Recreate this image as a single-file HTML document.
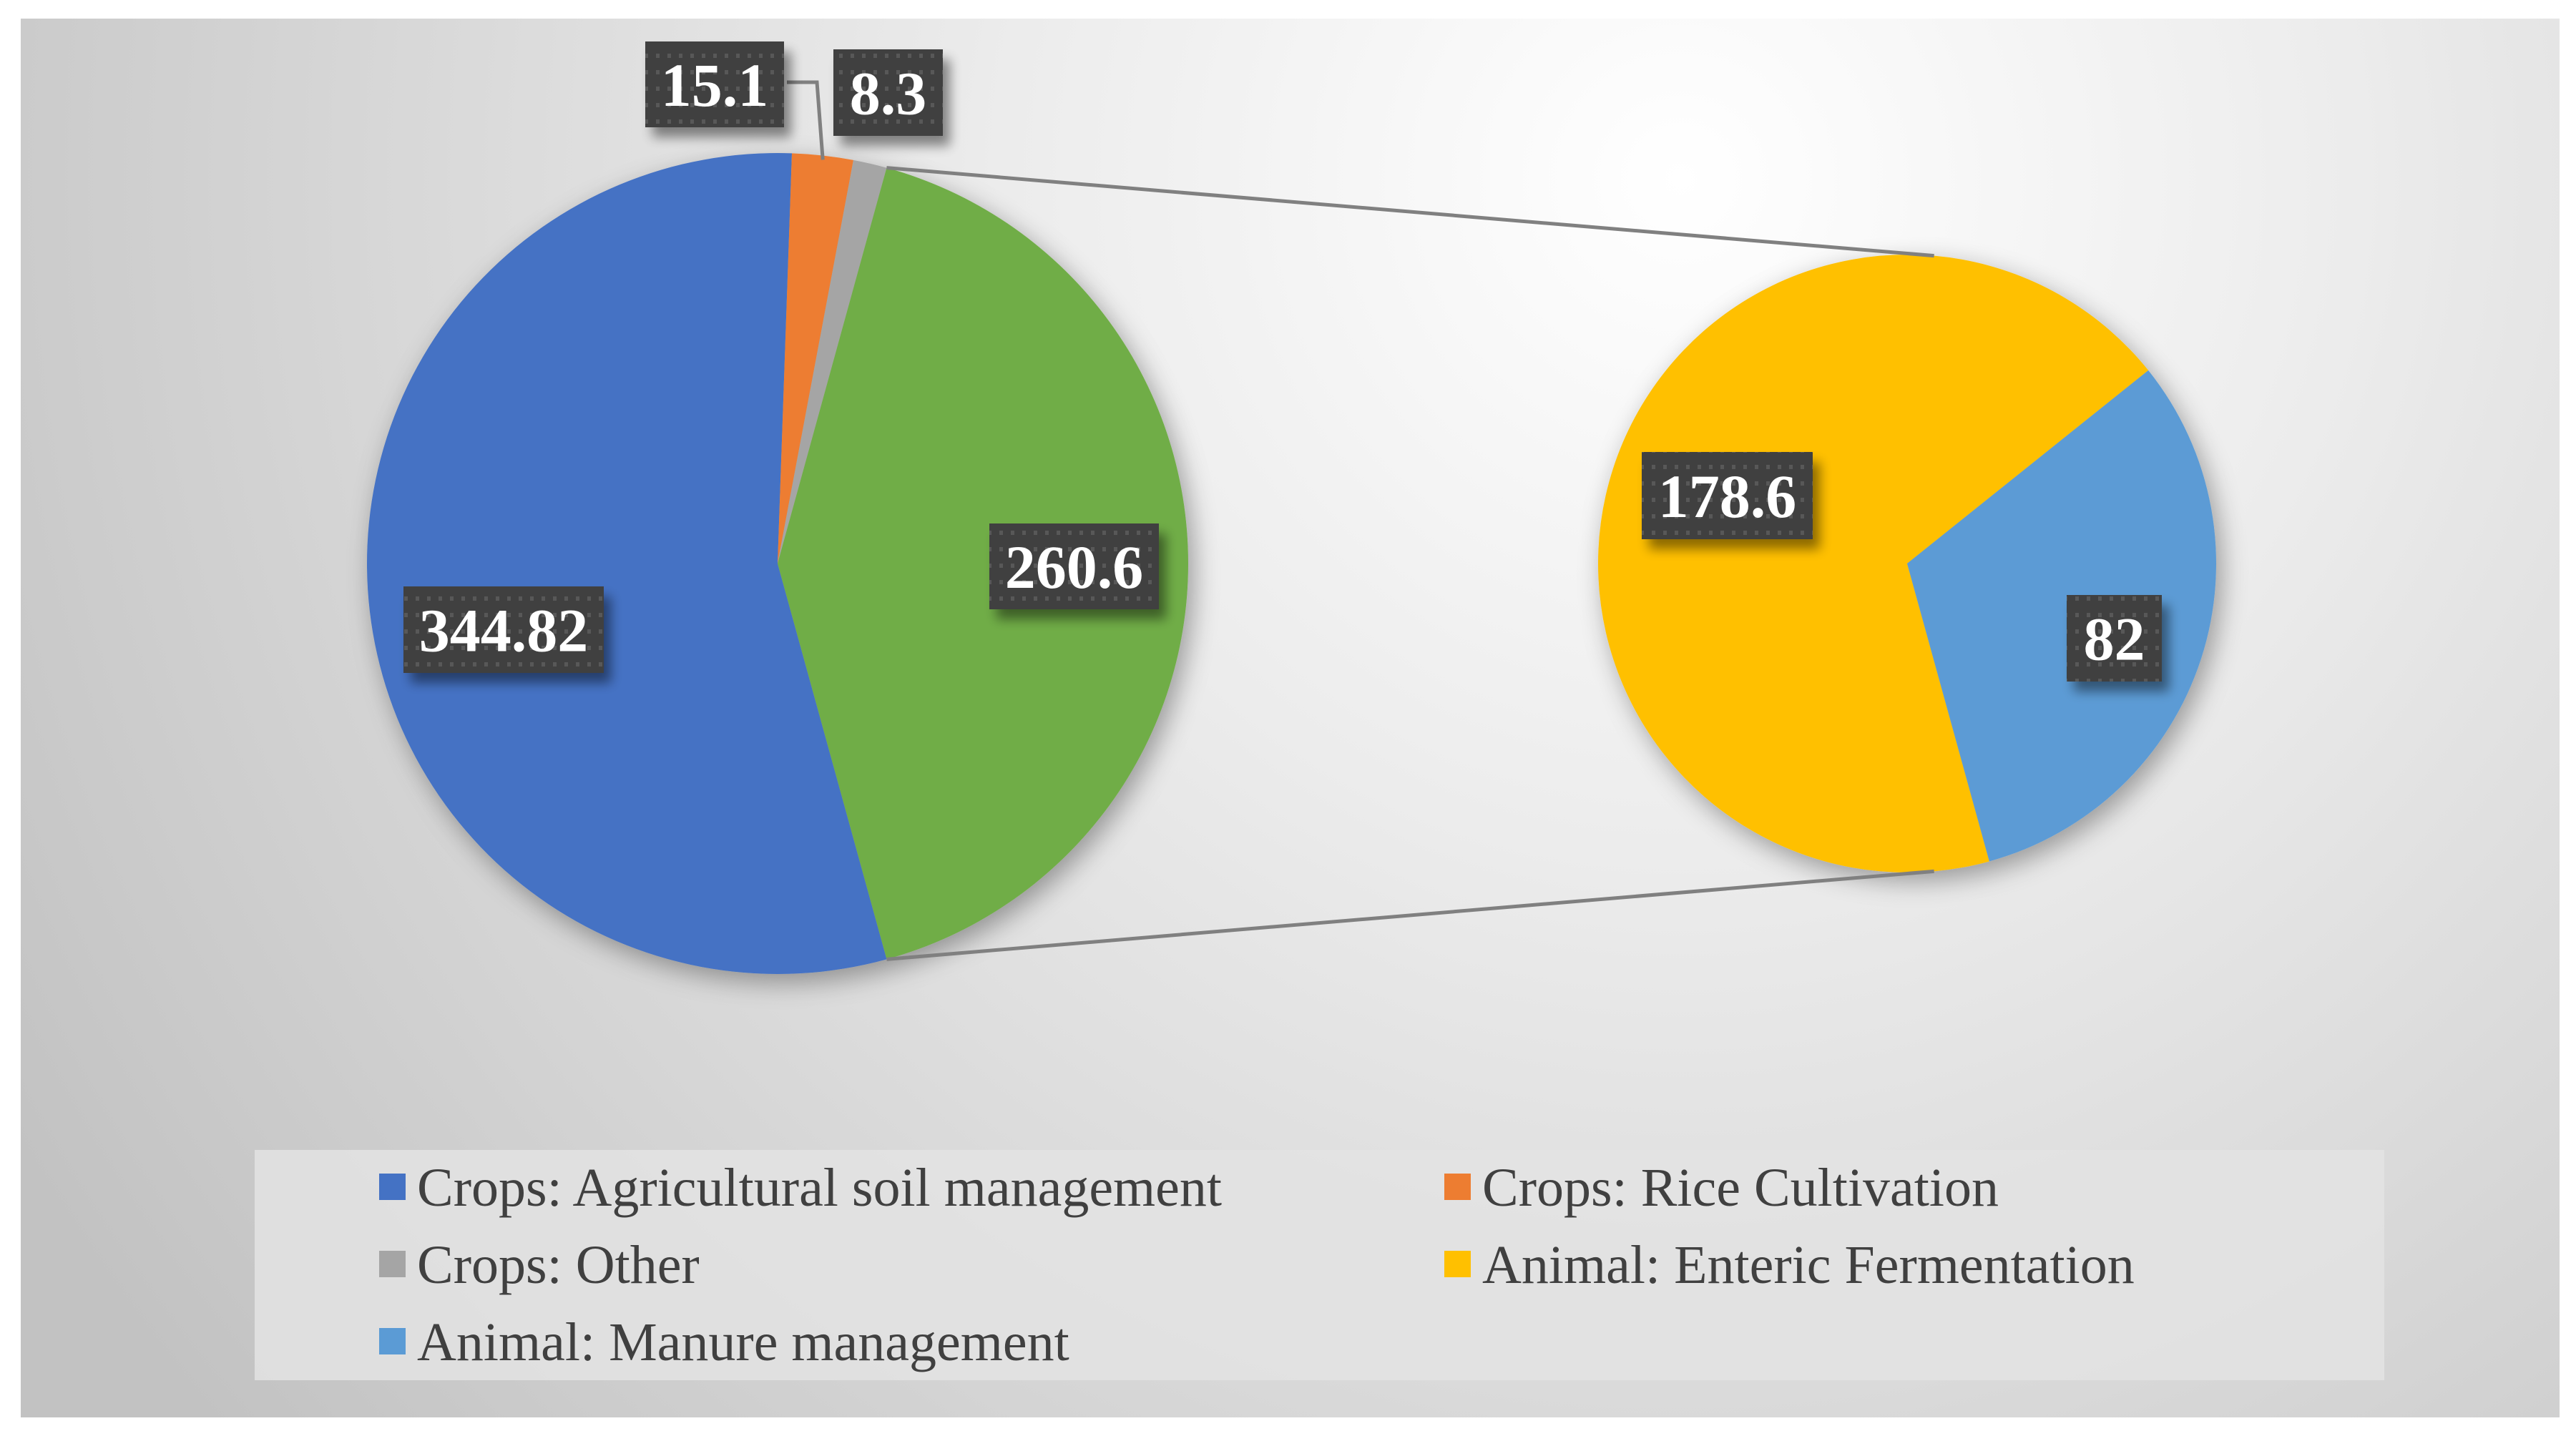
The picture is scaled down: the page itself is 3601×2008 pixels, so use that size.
<!DOCTYPE html>
<html><head><meta charset="utf-8"><style>
html,body{margin:0;padding:0;background:#fff;}
svg{display:block;}
</style></head><body>
<svg id="chart" width="3601" height="2008" viewBox="0 0 3601 2008" xmlns="http://www.w3.org/2000/svg">
<defs>
<radialGradient id="bg" gradientUnits="userSpaceOnUse" cx="2350" cy="250" r="2700">
<stop offset="0" stop-color="#ffffff"/><stop offset="0.35" stop-color="#ececec"/><stop offset="1" stop-color="#c2c2c2"/>
</radialGradient>
<pattern id="dots" width="16" height="23" patternUnits="userSpaceOnUse">
<rect width="16" height="23" fill="#404040"/><rect x="5" y="6" width="5" height="6" fill="#595959"/>
</pattern>
<filter id="sh" x="-20%" y="-20%" width="140%" height="140%"><feGaussianBlur in="SourceAlpha" stdDeviation="18"/><feOffset dx="8" dy="12"/><feComponentTransfer><feFuncA type="linear" slope="0.35"/></feComponentTransfer><feMerge><feMergeNode/><feMergeNode in="SourceGraphic"/></feMerge></filter>
<filter id="lsh" x="-30%" y="-30%" width="160%" height="160%"><feGaussianBlur in="SourceAlpha" stdDeviation="8"/><feOffset dx="10" dy="14"/><feComponentTransfer><feFuncA type="linear" slope="0.45"/></feComponentTransfer><feMerge><feMergeNode/><feMergeNode in="SourceGraphic"/></feMerge></filter>
</defs>
<rect x="29" y="26" width="3549" height="1956" fill="url(#bg)"/>
<g id="plot"></g>
<rect x="356" y="1608" width="2977" height="322" fill="#e3e3e3" fill-opacity="0.85"/>
<g id="legend" font-family="'Liberation Serif', serif" font-size="76" fill="#404040"></g>
</svg>
<script>
const categories = ["Crops: Agricultural soil management","Crops: Rice Cultivation","Crops: Other","Other"];
const mainValues = [344.82, 15.1, 8.3, 260.6];
const mainLabels = ["344.82","15.1","8.3","260.6"];
const subCategories = ["Animal: Enteric Fermentation","Animal: Manure management"];
const subValues = [178.6, 82];
const subLabels = ["178.6","82"];
const legendItems = ["Crops: Agricultural soil management","Crops: Rice Cultivation","Crops: Other","Animal: Enteric Fermentation","Animal: Manure management"];
const legendColors = ["#4472C4","#ED7D31","#A5A5A5","#FFC000","#5B9BD5"];

const NS="http://www.w3.org/2000/svg";
const plot=document.getElementById('plot');
function mk(tag,attrs,parent){const e=document.createElementNS(NS,tag);for(const k in attrs)e.setAttribute(k,attrs[k]);(parent||plot).appendChild(e);return e;}
function pt(cx,cy,r,deg){const a=deg*Math.PI/180;return [cx+r*Math.sin(a),cy-r*Math.cos(a)];}
function arc(cx,cy,r,a0,a1){const p0=pt(cx,cy,r,a0),p1=pt(cx,cy,r,a1);const large=(a1-a0)>180?1:0;return `M${cx},${cy}L${p0[0]},${p0[1]}A${r},${r} 0 ${large} 1 ${p1[0]},${p1[1]}Z`;}

const L={cx:1087,cy:788,r:574}, R={cx:2666,cy:788,r:432};
const mainColors=["#4472C4","#ED7D31","#A5A5A5","#70AD47"];
const subColors=["#FFC000","#5B9BD5"];
const mainTotal=mainValues.reduce((a,b)=>a+b,0);
const subTotal=subValues.reduce((a,b)=>a+b,0);
// main pie: blue ends at ~2deg past top
const blueSpan=mainValues[0]/mainTotal*360;
let start=362-blueSpan;
const mainAngles=[];
const gMain=mk('g',{filter:'url(#sh)'});


mainValues.forEach((v,i)=>{const span=v/mainTotal*360;const a0=start,a1=start+span;mainAngles.push([a0,a1]);
 const p=mk('path',{d:arc(L.cx,L.cy,L.r,a0,a1),fill:mainColors[i]},gMain);
 
 
 start=a1;});
// sub pie
const subBlueSpan=subValues[1]/subTotal*360;
const subStartBlue=51.3;
const subAngles=[[subStartBlue+subBlueSpan, subStartBlue+360],[subStartBlue, subStartBlue+subBlueSpan]];
const gSub=mk('g',{filter:'url(#sh)'});


subValues.forEach((v,i)=>{const [a0,a1]=subAngles[i];
 const p=mk('path',{d:arc(R.cx,R.cy,R.r,a0,a1),fill:subColors[i]},gSub);
 
 });
// connectors
const gA=mainAngles[3];
const c1=pt(L.cx,L.cy,L.r,gA[0]), c2=pt(L.cx,L.cy,L.r,gA[1]);
const r1=pt(R.cx,R.cy,R.r,5), r2=pt(R.cx,R.cy,R.r,175);
const ln1=mk('line',{x1:c1[0],y1:c1[1],x2:r1[0],y2:r1[1],stroke:'#808080','stroke-width':5});


const ln2=mk('line',{x1:c2[0],y1:c2[1],x2:r2[0],y2:r2[1],stroke:'#808080','stroke-width':5});


// leader for 15.1
const oMid=pt(L.cx,L.cy,L.r,(mainAngles[1][0]+mainAngles[1][1])/2);
const ld=mk('polyline',{points:`1100,115 1142,115 ${oMid[0]},${oMid[1]+6}`,fill:'none',stroke:'#808080','stroke-width':5});


// labels
function label(x,y,w,h,txt,name){const g=mk('g',{filter:'url(#lsh)'});
 
 
 mk('rect',{x:x,y:y,width:w,height:h,fill:'url(#dots)'},g);
 const t=mk('text',{x:x+w/2,y:y+h/2+30,'text-anchor':'middle','font-family':"'Liberation Serif', serif",'font-weight':'bold','font-size':86,fill:'#fff'},g);
 t.textContent=txt;}
const mainBoxes=[[564,820,280,121],[902,58,194,120],[1165,69,153,121],[1383,732,237,120]];
mainLabels.forEach((t,i)=>{const b=mainBoxes[i];label(b[0],b[1],b[2],b[3],t,'data-label-main-'+i);});
const subBoxes=[[2295,632,239,122],[2889,832,133,121]];
subLabels.forEach((t,i)=>{const b=subBoxes[i];label(b[0],b[1],b[2],b[3],t,'data-label-sub-'+i);});
// legend
const lg=document.getElementById('legend');
const pos=[[530,1660],[2019,1660],[530,1768],[2019,1768],[530,1876]];
legendItems.forEach((t,i)=>{const [x,y]=pos[i];
 const g=mk('g',{},lg);
 
 
 mk('rect',{x:x,y:y-19,width:37,height:37,fill:legendColors[i]},g);
 const tx=mk('text',{x:x+53,y:y+26},g);tx.textContent=t;});
</script>
</body></html>
